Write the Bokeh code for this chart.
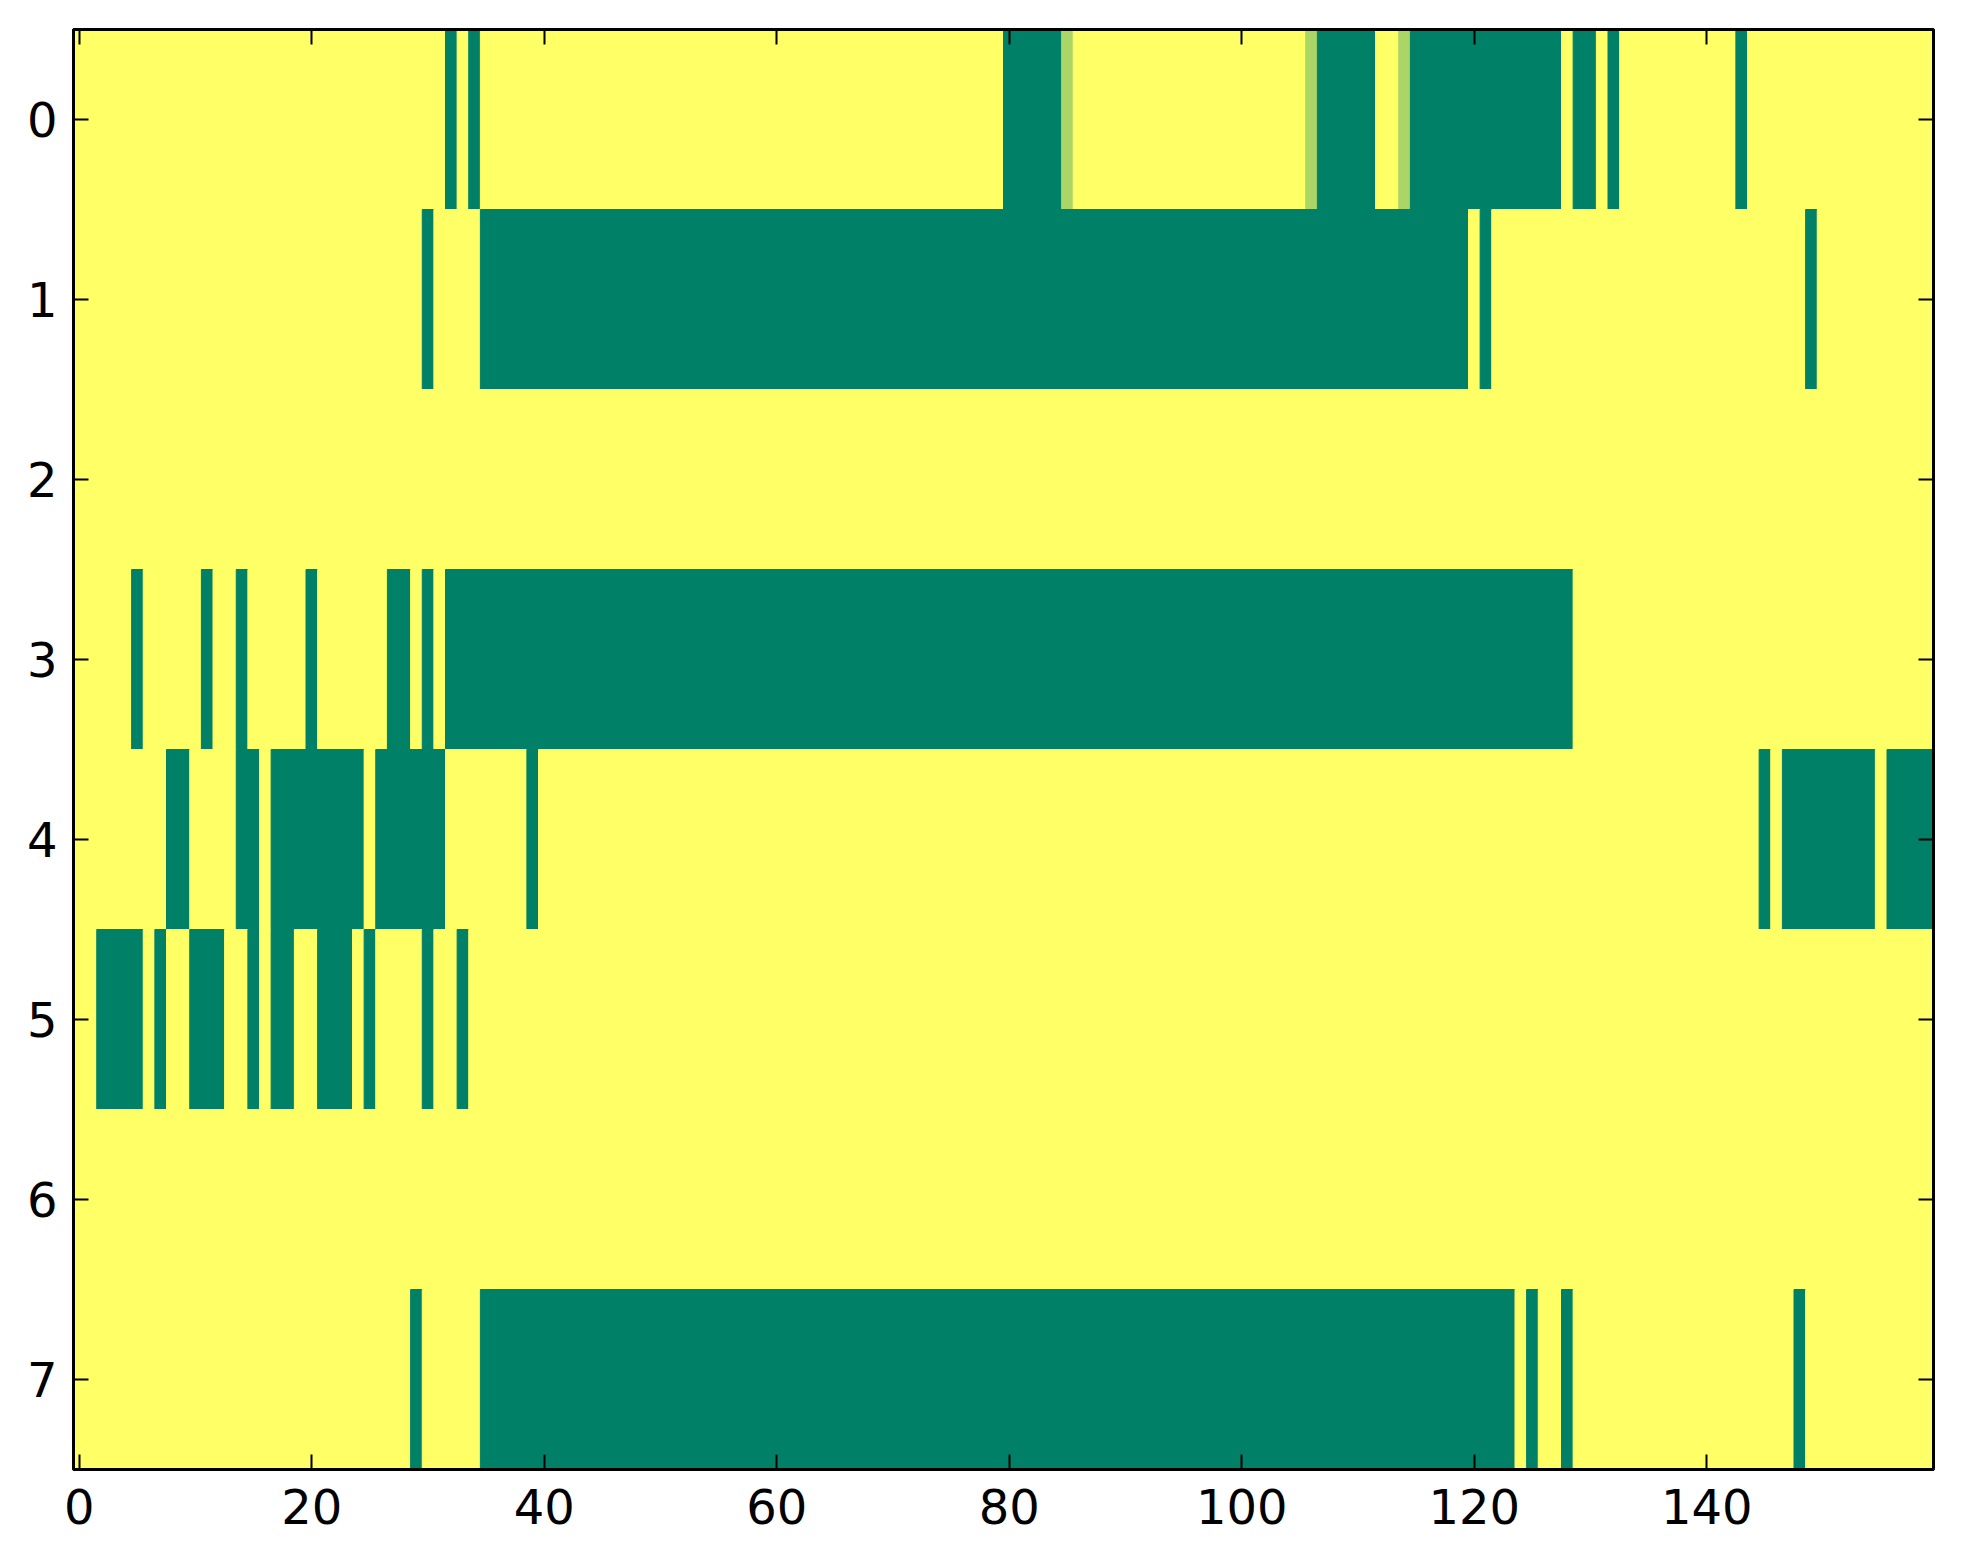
import pandas as pd
from bokeh.models import ColumnDataSource, FixedTicker, LinearAxis, Range1d
from bokeh.plotting import figure
from bokeh.embed import file_html
from bokeh.resources import INLINE

# one string per matrix row, 160 cells written in groups of ten
# "0" = 0.0 (dark green), "1" = 1.0 (yellow), "m" = in-between value
row_0 = ("1111111111 1111111111 1111111111 1101011111 1111111111 1111111111 1111111111 1111111111 "
         "00000m1111 1111111111 111111m000 0011m00000 0000000010 0101111111 1110111111 1111111111")
row_1 = ("1111111111 1111111111 1111111111 0111100000 0000000000 0000000000 0000000000 0000000000 "
         "0000000000 0000000000 0000000000 0000000000 1011111111 1111111111 1111111110 1111111111")
row_2 = ("1111111111 1111111111 1111111111 1111111111 1111111111 1111111111 1111111111 1111111111 "
         "1111111111 1111111111 1111111111 1111111111 1111111111 1111111111 1111111111 1111111111")
row_3 = ("1111101111 1011011111 0111111001 0100000000 0000000000 0000000000 0000000000 0000000000 "
         "0000000000 0000000000 0000000000 0000000000 0000000001 1111111111 1111111111 1111111111")
row_4 = ("1111111100 1111001000 0000010000 0011111110 1111111111 1111111111 1111111111 1111111111 "
         "1111111111 1111111111 1111111111 1111111111 1111111111 1111111111 1111101000 0000010000")
row_5 = ("1100001011 0001101001 1000101111 0110111111 1111111111 1111111111 1111111111 1111111111 "
         "1111111111 1111111111 1111111111 1111111111 1111111111 1111111111 1111111111 1111111111")
row_6 = ("1111111111 1111111111 1111111111 1111111111 1111111111 1111111111 1111111111 1111111111 "
         "1111111111 1111111111 1111111111 1111111111 1111111111 1111111111 1111111111 1111111111")
row_7 = ("1111111111 1111111111 1111111110 1111100000 0000000000 0000000000 0000000000 0000000000 "
         "0000000000 0000000000 0000000000 0000000000 0000101101 1111111111 1111111101 1111111111")

rows = [row_0, row_1, row_2, row_3, row_4, row_5, row_6, row_7]
cell_values = {"0": 0.0, "1": 1.0, "m": 0.67}

x_ticks = [0, 20, 40, 60, 80, 100, 120, 140]
y_ticks = [0, 1, 2, 3, 4, 5, 6, 7]


def summer(v):
    # matplotlib "summer" colormap
    r = round(255 * v)
    g = round(255 * (0.5 + v / 2))
    b = round(255 * 0.4)
    return "#%02x%02x%02x" % (r, g, b)


# merge each row into runs of equal value
recs = []
for r, s in enumerate(rows):
    vals = [cell_values[c] for c in s.replace(" ", "")]
    assert len(vals) == 160
    start = 0
    for i in range(1, len(vals) + 1):
        if i == len(vals) or vals[i] != vals[start]:
            recs.append(dict(left=start - 0.5, right=i - 0.5, top=r - 0.5, bottom=r + 0.5,
                             value=vals[start], color=summer(vals[start])))
            start = i
df = pd.DataFrame(recs)
n_cols = len(rows[0].replace(" ", ""))

p = figure(frame_width=1860, frame_height=1440,
           x_range=Range1d(-0.5, n_cols - 0.5), y_range=Range1d(len(rows) - 0.5, -0.5),
           output_backend="svg", toolbar_location=None,
           min_border_left=73, min_border_top=29, min_border_right=20, min_border_bottom=70)

p.quad(left="left", right="right", top="top", bottom="bottom",
       fill_color="color", line_color="color", line_width=1,
       source=ColumnDataSource(df))

p.add_layout(LinearAxis(), "above")
p.add_layout(LinearAxis(), "right")

for ax in p.xaxis:
    ax.ticker = FixedTicker(ticks=x_ticks)
for ax in p.yaxis:
    ax.ticker = FixedTicker(ticks=y_ticks)

for ax in p.axis:
    ax.axis_line_width = 3
    ax.axis_line_color = "black"
    ax.major_tick_in = 15
    ax.major_tick_out = 0
    ax.major_tick_line_width = 2
    ax.major_tick_line_color = "black"
    ax.minor_tick_line_color = None
    ax.major_label_text_font = "DejaVu Sans"
    ax.major_label_text_font_size = "48px"
    ax.major_label_text_color = "black"

# top and right axes only carry ticks
for ax in (p.xaxis[0], p.yaxis[1]):
    ax.major_label_text_color = None
    ax.major_label_text_font_size = "1px"
    ax.major_label_standoff = 0

p.below[0].major_label_standoff = 19
p.left[0].major_label_standoff = 16

p.xgrid.visible = False
p.ygrid.visible = False
p.outline_line_color = "black"
p.outline_line_width = 3
p.background_fill_color = "white"
p.border_fill_color = "white"

open("out.html", "w").write(file_html(p, INLINE))
